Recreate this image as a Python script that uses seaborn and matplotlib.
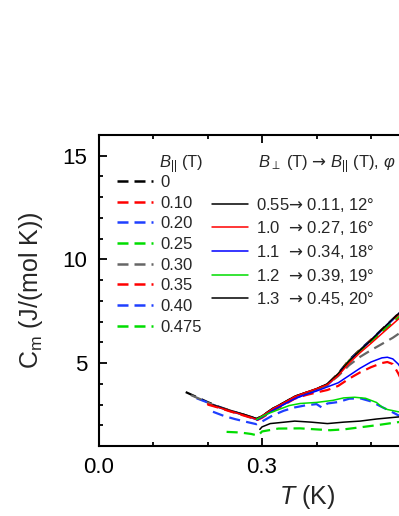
import matplotlib
matplotlib.use("Agg")
import matplotlib.pyplot as plt
from matplotlib.lines import Line2D
from matplotlib.ticker import MultipleLocator, FixedLocator
import seaborn as sns

# zero-field / parallel-field curves (dashed)
t_b000 = [0.16, 0.18, 0.20, 0.22, 0.24, 0.26, 0.28, 0.29, 0.30, 0.32, 0.34, 0.36, 0.38, 0.40, 0.42, 0.44, 0.46, 0.48, 0.50, 0.52, 0.54, 0.56, 0.58, 0.60]
c_b000 = [3.60, 3.36, 3.12, 2.90, 2.72, 2.56, 2.40, 2.30, 2.44, 2.80, 3.08, 3.38, 3.56, 3.74, 3.98, 4.50, 5.15, 5.65, 6.12, 6.62, 7.12, 7.62, 8.10, 8.60]

t_b010 = [0.20, 0.22, 0.24, 0.26, 0.28, 0.29, 0.30, 0.32, 0.34, 0.36, 0.38, 0.40, 0.42, 0.44, 0.46, 0.48, 0.50, 0.52, 0.54, 0.56, 0.58, 0.60]
c_b010 = [3.05, 2.88, 2.70, 2.54, 2.38, 2.25, 2.40, 2.76, 3.05, 3.36, 3.55, 3.72, 3.97, 4.48, 5.12, 5.62, 6.10, 6.58, 7.08, 7.58, 8.05, 8.55]

t_b020 = [0.18, 0.20, 0.22, 0.24, 0.26, 0.28, 0.29, 0.30, 0.32, 0.34, 0.36, 0.38, 0.40, 0.42, 0.44, 0.46, 0.48, 0.50, 0.52, 0.54, 0.56, 0.58, 0.60]
c_b020 = [3.30, 3.10, 2.88, 2.70, 2.55, 2.38, 2.28, 2.40, 2.74, 3.02, 3.30, 3.50, 3.70, 3.94, 4.45, 5.10, 5.62, 6.10, 6.60, 7.10, 7.60, 8.08, 8.58]

t_b025 = [0.29, 0.30, 0.32, 0.34, 0.36, 0.38, 0.40, 0.42, 0.44, 0.46, 0.48, 0.50, 0.52, 0.54, 0.56, 0.58, 0.60]
c_b025 = [2.30, 2.42, 2.76, 3.04, 3.34, 3.54, 3.72, 3.96, 4.45, 5.10, 5.60, 6.05, 6.50, 6.95, 7.42, 7.90, 8.35]

t_b030 = [0.17, 0.19, 0.21, 0.23, 0.25, 0.27, 0.29, 0.30, 0.32, 0.34, 0.36, 0.38, 0.40, 0.42, 0.44, 0.46, 0.48, 0.50, 0.52, 0.54, 0.56, 0.58, 0.60]
c_b030 = [3.45, 3.22, 2.98, 2.80, 2.64, 2.48, 2.32, 2.42, 2.78, 3.06, 3.36, 3.56, 3.74, 3.96, 4.38, 4.90, 5.30, 5.62, 5.92, 6.22, 6.58, 6.90, 7.20]

t_b035 = [0.20, 0.22, 0.24, 0.26, 0.28, 0.29, 0.30, 0.32, 0.34, 0.36, 0.38, 0.40, 0.42, 0.44, 0.46, 0.48, 0.50, 0.52, 0.53, 0.54, 0.55, 0.56, 0.58]
c_b035 = [3.00, 2.85, 2.68, 2.52, 2.36, 2.24, 2.36, 2.70, 2.98, 3.28, 3.45, 3.58, 3.70, 3.90, 4.25, 4.55, 4.80, 5.00, 5.05, 4.95, 4.50, 3.95, 3.30]

t_b040 = [0.21, 0.23, 0.25, 0.27, 0.29, 0.30, 0.32, 0.34, 0.36, 0.38, 0.40, 0.41, 0.42, 0.44, 0.46, 0.48, 0.50, 0.52, 0.54, 0.55, 0.56, 0.58]
c_b040 = [2.65, 2.45, 2.30, 2.17, 2.05, 2.18, 2.48, 2.70, 2.86, 2.96, 3.02, 2.85, 3.05, 3.12, 3.28, 3.30, 3.15, 2.88, 2.62, 2.48, 2.42, 2.35]

t_b0475 = [0.235, 0.26, 0.28, 0.293, 0.30, 0.33, 0.37, 0.40, 0.425, 0.45, 0.48, 0.51, 0.55, 0.58]
c_b0475 = [1.68, 1.65, 1.58, 1.50, 1.70, 1.84, 1.85, 1.80, 1.76, 1.80, 1.90, 2.00, 2.15, 2.25]

# tilted-field curves (solid)
t_p055 = [0.21, 0.23, 0.25, 0.27, 0.29, 0.30, 0.32, 0.34, 0.36, 0.38, 0.40, 0.42, 0.44, 0.46, 0.48, 0.50, 0.52, 0.54, 0.56, 0.58, 0.60]
c_p055 = [2.98, 2.80, 2.64, 2.50, 2.32, 2.45, 2.82, 3.10, 3.40, 3.58, 3.76, 4.00, 4.48, 5.10, 5.62, 6.10, 6.62, 7.12, 7.62, 8.10, 8.60]

t_p100 = [0.20, 0.22, 0.24, 0.26, 0.28, 0.29, 0.30, 0.32, 0.34, 0.36, 0.38, 0.40, 0.42, 0.44, 0.46, 0.48, 0.50, 0.52, 0.54, 0.56, 0.58, 0.60]
c_p100 = [3.02, 2.86, 2.70, 2.54, 2.38, 2.28, 2.44, 2.80, 3.08, 3.38, 3.58, 3.76, 3.96, 4.40, 5.00, 5.50, 5.95, 6.42, 6.88, 7.35, 7.80, 8.25]

t_p110 = [0.29, 0.30, 0.32, 0.34, 0.36, 0.38, 0.40, 0.42, 0.44, 0.46, 0.48, 0.50, 0.52, 0.53, 0.54, 0.55, 0.56, 0.58]
c_p110 = [2.25, 2.38, 2.72, 3.00, 3.28, 3.48, 3.65, 3.85, 4.05, 4.40, 4.75, 5.05, 5.25, 5.28, 5.20, 4.95, 4.55, 3.85]

t_p120 = [0.29, 0.31, 0.33, 0.35, 0.37, 0.40, 0.43, 0.45, 0.47, 0.49, 0.51, 0.52, 0.53, 0.55, 0.58]
c_p120 = [2.28, 2.55, 2.75, 2.95, 3.05, 3.10, 3.20, 3.32, 3.35, 3.30, 3.10, 2.88, 2.76, 2.65, 2.60]

t_p130 = [0.296, 0.30, 0.315, 0.33, 0.36, 0.39, 0.42, 0.45, 0.48, 0.51, 0.55, 0.58]
c_p130 = [1.80, 1.92, 2.08, 2.12, 2.20, 2.15, 2.08, 2.15, 2.20, 2.30, 2.40, 2.45]

arrow = "$\\mathsf{\u2192}$"

par_title = "$\\it{B}_{||}$ (T)"
par_labels = ["0", "0.10", "0.20", "0.25", "0.30", "0.35", "0.40", "0.475"]
par_colors = ["black", "red", "#1f3fff", "#00dd00", "#666666", "red", "#1f3fff", "#00dd00"]
par_data = [(t_b000, c_b000), (t_b010, c_b010), (t_b020, c_b020), (t_b025, c_b025),
            (t_b030, c_b030), (t_b035, c_b035), (t_b040, c_b040), (t_b0475, c_b0475)]

tilt_title = "$\\it{B}_{\\perp}$ (T) " + arrow + " $\\it{B}_{||}$ (T), $\\varphi$"
tilt_labels = ["0.55" + arrow + " 0.11, 12\u00b0", "1.0  " + arrow + " 0.27, 16\u00b0",
               "1.1  " + arrow + " 0.34, 18\u00b0", "1.2  " + arrow + " 0.39, 19\u00b0",
               "1.3  " + arrow + " 0.45, 20\u00b0"]
tilt_colors = ["black", "red", "blue", "#00dd00", "black"]
tilt_data = [(t_p055, c_p055), (t_p100, c_p100), (t_p110, c_p110), (t_p120, c_p120), (t_p130, c_p130)]

sns.set_theme(style="ticks")
plt.rcParams["font.family"] = ["Liberation Sans", "DejaVu Sans"]
plt.rcParams["mathtext.fontset"] = "custom"
plt.rcParams["mathtext.rm"] = "Liberation Sans"
plt.rcParams["mathtext.it"] = "Liberation Sans:italic"
plt.rcParams["mathtext.sf"] = "DejaVu Sans"

fig = plt.figure(figsize=(3.99, 5.16), dpi=100)
ax = fig.add_axes([0.2469, 0.1357, 1.0927, 0.6027])

dash = (0, (5.0, 2.8))
for (t, c), col in zip(par_data, par_colors):
    sns.lineplot(x=t, y=c, ax=ax, color=col, lw=1.6, linestyle=dash, sort=False, estimator=None)
for (t, c), col in zip(tilt_data, tilt_colors):
    sns.lineplot(x=t, y=c, ax=ax, color=col, lw=1.1, sort=False, estimator=None)

ax.set_xlim(0, 0.8)
ax.set_ylim(1, 16)
ax.xaxis.set_major_locator(FixedLocator([0.0, 0.3]))
ax.xaxis.set_minor_locator(MultipleLocator(0.1))
ax.yaxis.set_major_locator(MultipleLocator(5))
ax.yaxis.set_minor_locator(MultipleLocator(1))
ax.xaxis.set_major_formatter(matplotlib.ticker.FormatStrFormatter("%.1f"))
ax.tick_params(which="both", direction="in", top=True, right=True, labelsize=16, width=1.3, colors="black")
ax.tick_params(which="major", length=6, pad=8)
ax.tick_params(which="minor", length=3)
for s in ax.spines.values():
    s.set_linewidth(1.5)
    s.set_color("black")

ax.set_xlabel("$\\it{T}$ (K)", fontsize=18)
ax.set_ylabel("C$_\\mathrm{m}$ (J/(mol K))", fontsize=18)
ax.xaxis.set_label_coords(0.479, -0.118)
ax.yaxis.set_label_coords(-0.122, 0.5)

# legend: left column dashed, right column solid (one empty row on top)
blank = Line2D([], [], color="none")
handles = [Line2D([], [], color=c, lw=1.8, linestyle=(0, (4.4, 2.4))) for c in par_colors]
labels = list(par_labels)
handles += [blank] + [Line2D([], [], color=c, lw=1.1) for c in tilt_colors] + [blank, blank]
labels += [""] + tilt_labels + ["", ""]

ax.legend(handles, labels, ncol=2, loc="upper left", bbox_to_anchor=(117 / 399, 1 - 175 / 516),
          bbox_transform=fig.transFigure, frameon=False, fontsize=12, borderpad=0, borderaxespad=0,
          handlelength=2.15, handletextpad=0.48, columnspacing=0.6, labelspacing=0.34)

fig.text(159 / 399, 1 - 165 / 516, par_title, fontsize=12, va="center", ha="left")
fig.text(258 / 399, 1 - 165 / 516, tilt_title, fontsize=12, va="center", ha="left")

fig.savefig("out.png", dpi=100)
